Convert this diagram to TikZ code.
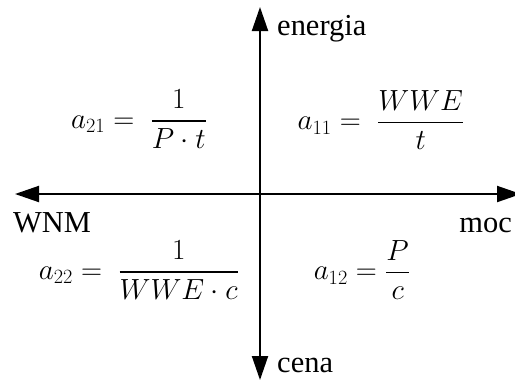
\documentclass[tikz,border=0pt]{standalone}
\usepackage{amsmath}
\usepackage{fontspec}
\setmainfont{Liberation Serif}
\usetikzlibrary{arrows.meta}

\begin{document}
\begin{tikzpicture}[
    x=0.03cm, y=-0.03cm,
    axis/.style={draw=black, line width=0.06cm,
      {Triangle[length=0.72cm, width=0.48cm]}-{Triangle[length=0.72cm, width=0.48cm]}},
    lbl/.style={inner sep=0pt, font=\rmfamily\fontsize{26}{30}\selectfont},
    frm/.style={inner sep=0pt, font=\rmfamily\fontsize{27}{32}\selectfont}]

    \useasboundingbox (0,0) rectangle (515,380);

    \coordinate (top) at (260,7);
    \coordinate (bottom) at (260,380);
    \coordinate (left) at (15,194);
    \coordinate (right) at (521,194);
    \draw[axis] (bottom)--(top);
    \draw[axis] (left)--(right);

    \node[lbl, anchor=base west] (energia) at (277,35) {energia};
    \node[lbl, anchor=base west] (wnm) at (13,232) {WNM};
    \node[lbl, anchor=base east] (moc) at (512,232) {moc};
    \node[lbl, anchor=base west] (cena) at (277,372) {cena};

    \node[frm] (a21) at (139,119) {$a_{21} = \;\dfrac{1}{P\cdot t}$};
    \node[frm] (a11) at (381,120) {$a_{11} = \;\dfrac{WWE}{t}$};
    \node[frm] (a22) at (139,270) {$a_{22} = \;\dfrac{1}{WWE\cdot c}$};
    \node[frm] (a12) at (362,270) {$a_{12} = \dfrac{P}{c}$};
  \end{tikzpicture}
\end{document}
